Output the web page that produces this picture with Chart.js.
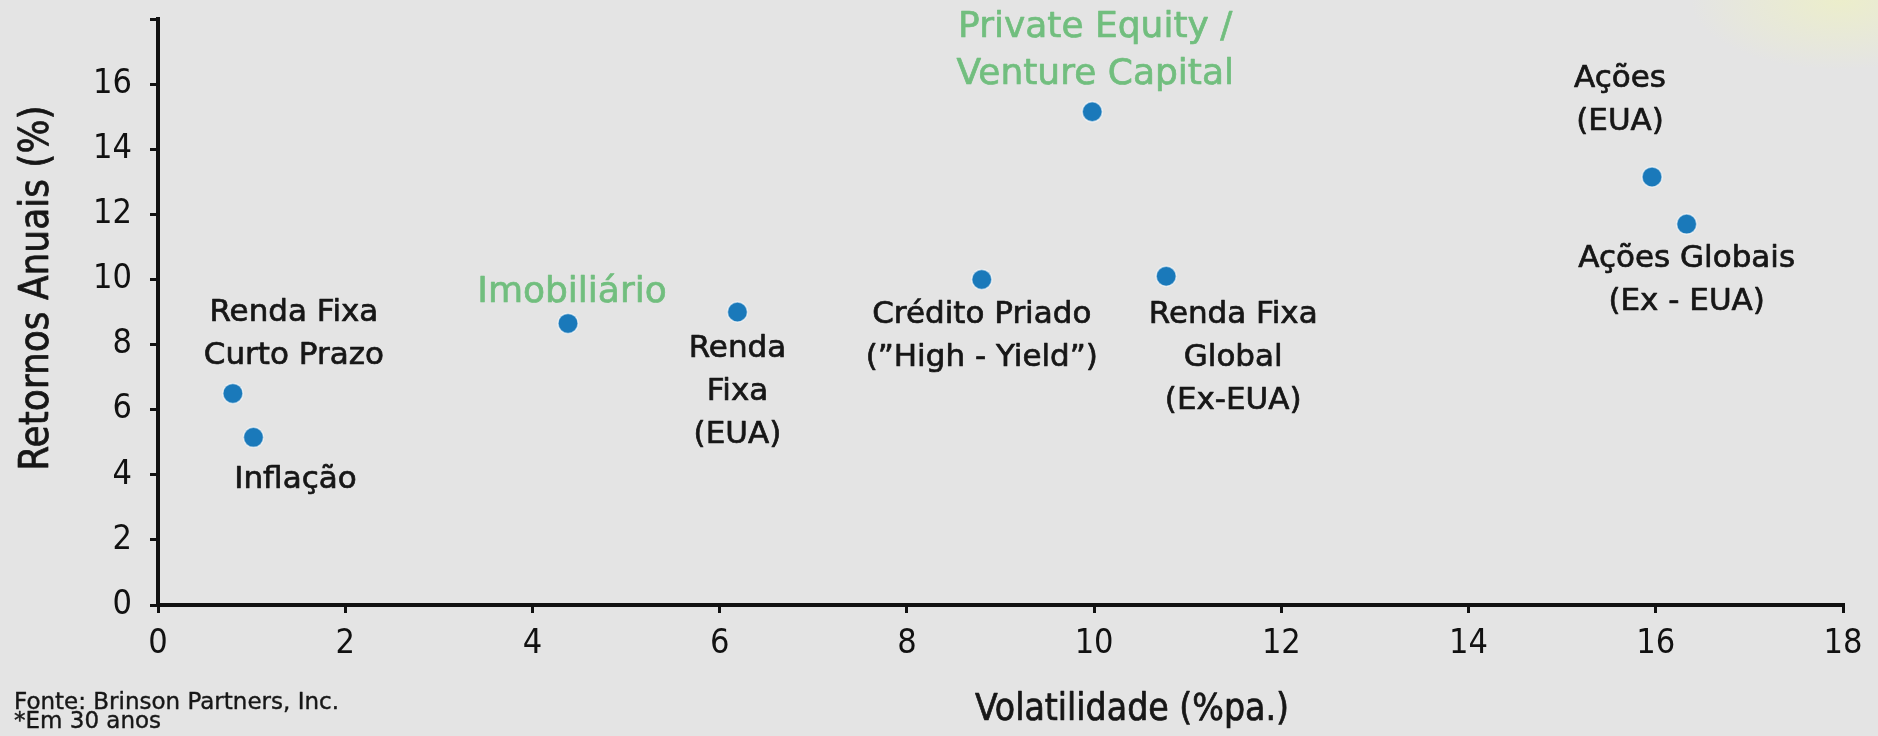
<!DOCTYPE html>
<html>
<head>
<meta charset="utf-8">
<script src="https://cdn.jsdelivr.net/npm/chart.js@4"></script>
<style>
  html, body { margin: 0; padding: 0; }
  body {
    background:
      radial-gradient(ellipse 150px 70px at 1840px 0px, #eceecb, rgba(228,228,228,0)),
      #e4e4e4;
  }
  #wrap { position: relative; width: 1878px; height: 736px; }
</style>
</head>
<body>
<div id="wrap"><canvas id="riskChart" width="1878" height="736"></canvas></div>
<script>
// Risco x retorno (30 anos)
const assetNames = [
    "Renda Fixa Curto Prazo",
    "Inflação",
    "Imobiliário",
    "Renda Fixa (EUA)",
    "Crédito Priado",
    "Private Equity / Venture Capital",
    "Renda Fixa Global (Ex-EUA)",
    "Ações (EUA)",
    "Ações Globais (Ex - EUA)"
];
const volatility = [0.8, 1.02, 4.38, 6.19, 8.8, 9.98, 10.77, 15.96, 16.33];
const annualReturns = [6.5, 5.15, 8.65, 9.0, 10.0, 15.15, 10.1, 13.15, 11.7];
const axisTicks = [0, 2, 4, 6, 8, 10, 12, 14, 16, 18];

// rótulos desenhados ao lado de cada ponto
const pointLabels = [
    { lines: ["Renda Fixa", "Curto Prazo"], dx: 61, dy: -80 },
    { lines: ["Inflação"], dx: 42, dy: 43 },
    { lines: ["Imobiliário"], dx: 4, dy: -31, green: true },
    { lines: ["Renda", "Fixa", "(EUA)"], dx: 0, dy: 37 },
    { lines: ["Crédito Priado", "(\u201DHigh - Yield\u201D)"], dx: 0, dy: 36 },
    { lines: ["Private Equity /", "Venture Capital"], dx: 3, dy: -84, green: true, step: 47 },
    { lines: ["Renda Fixa", "Global", "(Ex-EUA)"], dx: 67, dy: 39 },
    { lines: ["Ações", "(EUA)"], dx: -32, dy: -98 },
    { lines: ["Ações Globais", "(Ex - EUA)"], dx: 0, dy: 35 }
];

const SANS = "'DejaVu Sans', sans-serif";
const COND = "'DejaVu Sans Condensed', 'DejaVu Sans', sans-serif";
Chart.defaults.font.family = COND;
Chart.defaults.color = "#111";

function heavyText(ctx, t, x, y) {
    ctx.strokeText(t, x, y);
    ctx.fillText(t, x, y);
}

const labelPlugin = {
    id: "labelPlugin",
    afterDraw(chart) {
        const ctx = chart.ctx;
        const xs = chart.scales.x, ys = chart.scales.y;
        ctx.save();
        ctx.textAlign = "center";
        ctx.textBaseline = "middle";
        ctx.lineWidth = 0.7;
        ctx.lineJoin = "round";
        pointLabels.forEach((lab, i) => {
            const px = xs.getPixelForValue(volatility[i]);
            const py = ys.getPixelForValue(annualReturns[i]);
            const col = lab.green ? "#71be7e" : "#161616";
            ctx.fillStyle = col;
            ctx.strokeStyle = col;
            ctx.font = (lab.green ? "36px " : "31px ") + SANS;
            const step = lab.step || 43;
            lab.lines.forEach((t, k) => {
                heavyText(ctx, t, px + lab.dx, py + lab.dy + k * step);
            });
        });

        // títulos dos eixos
        ctx.fillStyle = "#161616";
        ctx.strokeStyle = "#161616";
        ctx.font = "37px " + COND;
        heavyText(ctx, "Volatilidade (%pa.)", 1132, 710);
        ctx.save();
        ctx.translate(38, 288);
        ctx.rotate(-Math.PI / 2);
        ctx.font = "40px " + COND;
        heavyText(ctx, "Retornos Anuais (%)", 0, 0);
        ctx.restore();

        // fonte
        ctx.textAlign = "left";
        ctx.lineWidth = 0.4;
        ctx.font = "23px " + SANS;
        heavyText(ctx, "Fonte: Brinson Partners, Inc.", 14, 703);
        heavyText(ctx, "*Em 30 anos", 14, 722);
        ctx.restore();
    }
};

new Chart(document.getElementById("riskChart"), {
    type: "scatter",
    data: {
        labels: assetNames,
        datasets: [
            {
                label: "Retorno x Volatilidade",
                data: volatility.map((v, i) => ({ x: v, y: annualReturns[i] })),
                backgroundColor: "#1a79ba",
                borderColor: "rgba(255,255,255,0.55)",
                borderWidth: 1.5,
                pointRadius: 10,
                pointHoverRadius: 10
            }
        ]
    },
    options: {
        responsive: false,
        animation: false,
        events: [],
        layout: { padding: { left: 0, right: 35, top: 19, bottom: 0 } },
        plugins: {
            legend: { display: false },
            tooltip: { enabled: false }
        },
        scales: {
            x: {
                type: "linear",
                min: 0,
                max: 18,
                afterBuildTicks: s => { s.ticks = axisTicks.map(v => ({ value: v })); },
                afterFit: s => { s.height = 131; },
                border: { display: true, color: "#111", width: 4 },
                grid: { drawOnChartArea: false, color: "#111", lineWidth: 3, tickLength: 8 },
                ticks: { font: { size: 34 }, padding: 11, color: "#111" }
            },
            y: {
                min: 0,
                max: 18,
                afterBuildTicks: s => { s.ticks = axisTicks.map(v => ({ value: v })); },
                afterFit: s => { s.width = 158; },
                border: { display: true, color: "#111", width: 4 },
                grid: { drawOnChartArea: false, color: "#111", lineWidth: 3, tickLength: 8 },
                ticks: {
                    // lineHeight pequeno: evita que o rótulo vazio do 18 empurre o topo
                    font: { size: 34, lineHeight: 0.02 },
                    padding: 18,
                    color: "#111",
                    callback: v => (v === 18 ? "" : v)
                }
            }
        }
    },
    plugins: [labelPlugin]
});
</script>
</body>
</html>
